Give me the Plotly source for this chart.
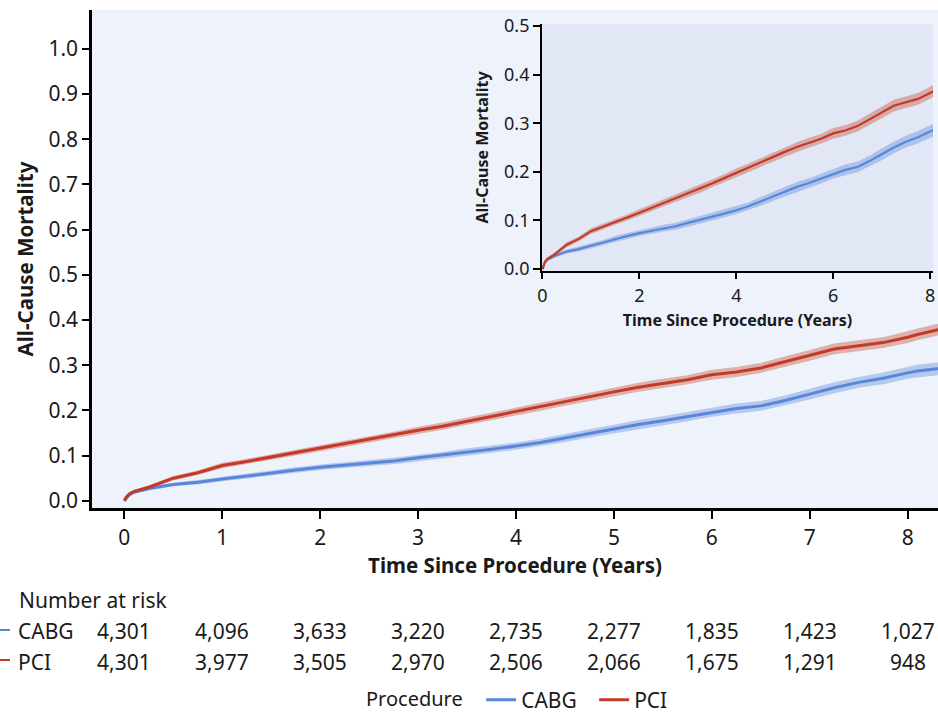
import plotly.graph_objects as go

# ---------------- data ----------------
t = [0, 0.02, 0.05, 0.1, 0.25, 0.5, 0.75, 1.0, 1.25, 1.5, 1.75, 2.0, 2.25, 2.5, 2.75,
     3.0, 3.25, 3.5, 3.75, 4.0, 4.25, 4.5, 4.75, 5.0, 5.25, 5.5, 5.75, 6.0, 6.25, 6.5,
     6.75, 7.0, 7.25, 7.5, 7.75, 8.0, 8.1, 8.3, 8.4]

cabg = [0, 0.006, 0.013, 0.019, 0.027, 0.036, 0.041, 0.048, 0.055, 0.062, 0.068, 0.074,
        0.079, 0.084, 0.088, 0.095, 0.101, 0.108, 0.114, 0.121, 0.129, 0.139, 0.149, 0.159,
        0.169, 0.177, 0.186, 0.196, 0.204, 0.210, 0.222, 0.236, 0.250, 0.262, 0.271, 0.283,
        0.287, 0.292, 0.294]
cabg_ci = [0, 0.002, 0.003, 0.003, 0.004, 0.004, 0.005, 0.005, 0.005, 0.006, 0.006, 0.006,
           0.006, 0.007, 0.007, 0.007, 0.007, 0.008, 0.008, 0.008, 0.008, 0.009, 0.009, 0.009,
           0.010, 0.010, 0.010, 0.010, 0.011, 0.011, 0.011, 0.012, 0.012, 0.012, 0.013, 0.013,
           0.014, 0.014, 0.014]

pci = [0, 0.008, 0.015, 0.021, 0.030, 0.050, 0.062, 0.078, 0.087, 0.097, 0.106, 0.116,
       0.126, 0.136, 0.146, 0.156, 0.165, 0.176, 0.187, 0.198, 0.208, 0.219, 0.230, 0.241,
       0.251, 0.260, 0.268, 0.279, 0.285, 0.294, 0.308, 0.322, 0.336, 0.343, 0.350, 0.362,
       0.368, 0.378, 0.380]
pci_ci = [0, 0.002, 0.003, 0.003, 0.004, 0.005, 0.005, 0.006, 0.006, 0.006, 0.006, 0.007,
          0.007, 0.007, 0.007, 0.008, 0.008, 0.008, 0.008, 0.009, 0.009, 0.009, 0.009, 0.010,
          0.010, 0.010, 0.010, 0.011, 0.011, 0.011, 0.011, 0.012, 0.012, 0.012, 0.012, 0.013,
          0.013, 0.013, 0.013]

risk_times = [0, 1, 2, 3, 4, 5, 6, 7, 8]
cabg_risk = ["4,301", "4,096", "3,633", "3,220", "2,735", "2,277", "1,835", "1,423", "1,027"]
pci_risk = ["4,301", "3,977", "3,505", "2,970", "2,506", "2,066", "1,675", "1,291", "948"]

main_yticks = [0.0, 0.1, 0.2, 0.3, 0.4, 0.5, 0.6, 0.7, 0.8, 0.9, 1.0]
inset_yticks = [0.0, 0.1, 0.2, 0.3, 0.4, 0.5]
main_xticks = [0, 1, 2, 3, 4, 5, 6, 7, 8]
inset_xticks = [0, 2, 4, 6, 8]

# ---------------- styles ----------------
W, H = 938, 713
FONT = "Noto Sans"
BLUE = "#5A86DA"
BLUE_BAND = "rgba(90,134,218,0.38)"
RED = "#C43A2A"
RED_BAND = "rgba(196,80,50,0.40)"
TXT = 21


def px(xp):
    return xp / W


def py(yp):
    return 1 - yp / H


main_xdom = [px(92), 1.0]
main_ydom = [py(508), py(10)]
inset_xdom = [px(542), px(933)]
inset_ydom = [py(271), py(24)]

fig = go.Figure()


def add_series(xa, ya, vals, ci, line_col, band_col, name, lw, show):
    lo = [v - c for v, c in zip(vals, ci)]
    hi = [v + c for v, c in zip(vals, ci)]
    fig.add_trace(go.Scatter(
        x=t + t[::-1], y=hi + lo[::-1], fill="toself", fillcolor=band_col,
        line=dict(width=0), mode="lines", hoverinfo="skip", showlegend=False,
        xaxis=xa, yaxis=ya))
    fig.add_trace(go.Scatter(
        x=t, y=vals, mode="lines", line=dict(color=line_col, width=lw),
        name=name, showlegend=show, legendgroup=name, xaxis=xa, yaxis=ya))


add_series("x", "y", cabg, cabg_ci, BLUE, BLUE_BAND, "CABG", 3, True)
add_series("x", "y", pci, pci_ci, RED, RED_BAND, "PCI", 3, True)
add_series("x2", "y2", cabg, cabg_ci, BLUE, BLUE_BAND, "CABG", 2.2, False)
add_series("x2", "y2", pci, pci_ci, RED, RED_BAND, "PCI", 2.2, False)

axis_common = dict(showline=True, linecolor="black", showgrid=False, zeroline=False,
                   ticks="outside", tickcolor="black", automargin=False)

fig.update_layout(
    width=W, height=H,
    margin=dict(l=0, r=0, t=0, b=0, autoexpand=False),
    paper_bgcolor="white",
    plot_bgcolor="rgba(0,0,0,0)",
    font=dict(family=FONT, color="#1a1a1a", size=TXT),
    xaxis=dict(domain=main_xdom, range=[-0.33, 8.31], tickvals=main_xticks,
               linewidth=2.5, ticklen=8, tickwidth=2.2, ticklabelstandoff=1,
               tickfont=dict(size=TXT),
               title=dict(text="<b>Time Since Procedure (Years)</b>", font=dict(size=20.5),
                          standoff=8),
               **axis_common),
    yaxis=dict(domain=main_ydom, range=[-0.016, 1.086], tickvals=main_yticks,
               tickformat=".1f", linewidth=2.5, ticklen=7, tickwidth=2.2,
               tickfont=dict(size=TXT),
               title=dict(text="<b>All-Cause Mortality</b>", font=dict(size=20.5),
                          standoff=10),
               **axis_common),
    xaxis2=dict(domain=inset_xdom, range=[-0.01, 8.06], tickvals=inset_xticks,
                anchor="y2", linewidth=1.8, ticklen=6, tickwidth=1.8, ticklabelstandoff=1,
                tickfont=dict(size=18),
                title=dict(text="<b>Time Since Procedure (Years)</b>", font=dict(size=16),
                           standoff=9),
                **axis_common),
    yaxis2=dict(domain=inset_ydom, range=[-0.004, 0.504], tickvals=inset_yticks,
                tickformat=".1f", anchor="x2", linewidth=1.8, ticklen=7, tickwidth=1.8,
                tickfont=dict(size=18),
                title=dict(text="<b>All-Cause Mortality</b>", font=dict(size=16),
                           standoff=11),
                **axis_common),
    legend=dict(orientation="h", x=px(364), xanchor="left", y=py(700), yanchor="middle",
                title=dict(text="Procedure  ", font=dict(size=20)),
                font=dict(size=TXT), bgcolor="rgba(0,0,0,0)", itemwidth=30,
                entrywidth=68, tracegroupgap=0),
)

# plot backgrounds (paper-level, below traces)
fig.add_shape(type="rect", xref="paper", yref="paper",
              x0=main_xdom[0], x1=main_xdom[1], y0=main_ydom[0], y1=main_ydom[1],
              fillcolor="#EEF2FB", line=dict(width=0), layer="below")
fig.add_shape(type="rect", xref="paper", yref="paper",
              x0=inset_xdom[0], x1=inset_xdom[1], y0=inset_ydom[0], y1=inset_ydom[1],
              fillcolor="#E1E7F5", line=dict(width=0), layer="below")

# risk table
fig.add_annotation(text="Number at risk", xref="paper", yref="paper", x=px(17), y=py(600),
                   xanchor="left", yanchor="middle", showarrow=False, font=dict(size=TXT))
for label, row, ypos, ystub, col in [("CABG", cabg_risk, 631, 630, BLUE),
                                     ("PCI", pci_risk, 662, 660, RED)]:
    fig.add_annotation(text=label, xref="paper", yref="paper", x=px(16), y=py(ypos),
                       xanchor="left", yanchor="middle", showarrow=False, font=dict(size=TXT))
    fig.add_shape(type="line", xref="paper", yref="paper", x0=0, x1=px(10),
                  y0=py(ystub), y1=py(ystub), line=dict(color=col, width=2))
    for tt, v in zip(risk_times, row):
        fig.add_annotation(text=v, xref="x", yref="paper", x=tt, y=py(ypos),
                           xanchor="center", yanchor="middle", showarrow=False,
                           font=dict(size=TXT))

fig.write_html("out.html", config={"displayModeBar": False},
               post_script="document.body.style.margin='0';")
